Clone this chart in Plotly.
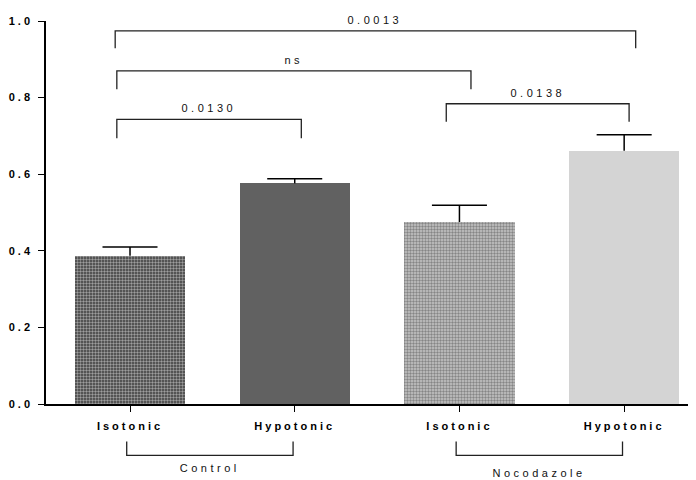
import plotly.graph_objects as go

# ---- data ----
conditions = ["Isotonic", "Hypotonic", "Isotonic", "Hypotonic"]
means = [0.387, 0.576, 0.475, 0.661]
sem = [0.023, 0.012, 0.044, 0.042]
groups = ["Control", "Nocodazole"]
group_members = [(0, 1), (2, 3)]
# comparisons
comp_a = [0, 0, 0, 2]
comp_b = [3, 2, 1, 3]
comp_labels = ["0.0013", "ns", "0.0130", "0.0138"]
comp_level = [0.974, 0.870, 0.743, 0.784]
comp_drop = [0.045, 0.048, 0.049, 0.047]
comp_off_a = [-0.09, -0.08, -0.08, -0.08]
comp_off_b = [0.07, 0.07, 0.04, 0.03]
y_ticks = [0.0, 0.2, 0.4, 0.6, 0.8, 1.0]

x = list(range(len(means)))

FONT = "Arial, Liberation Sans, sans-serif"

fill_colors = ["#3c3c3c", "#616161", "#c6c6c6", "#d4d4d4"]
pat_shapes = [".", "", ".", ""]
pat_fg = ["#000000", "#616161", "#727272", "#d4d4d4"]

fig = go.Figure()
fig.add_trace(go.Bar(
    x=x, y=means, width=0.67,
    marker=dict(
        color=fill_colors,
        line=dict(width=0),
        pattern=dict(shape=pat_shapes, fgcolor=pat_fg, bgcolor=fill_colors,
                     size=3, solidity=0.5, fillmode="overlay"),
    ),
    showlegend=False, hoverinfo="skip",
))

# upper error whiskers with a single cap
cap = 0.167
ex, ey = [], []
for xi, m, s in zip(x, means, sem):
    ex += [xi, xi, None, xi - cap, xi + cap, None]
    ey += [m, m + s, None, m + s, m + s, None]
fig.add_trace(go.Scatter(x=ex, y=ey, mode="lines",
                         line=dict(color="black", width=1.5),
                         showlegend=False, hoverinfo="skip"))

shapes = []
annotations = []
lc = "#222222"
for a, b, lab, lev, drop, oa, ob in zip(comp_a, comp_b, comp_labels, comp_level,
                                        comp_drop, comp_off_a, comp_off_b):
    x0 = a + oa
    x1 = b + ob
    shapes.append(dict(type="path",
                       path=f"M {x0} {lev - drop} L {x0} {lev} L {x1} {lev} L {x1} {lev - drop}",
                       xref="x", yref="y", line=dict(color=lc, width=1.3)))
    annotations.append(dict(x=(x0 + x1) / 2, y=lev, xref="x", yref="y",
                            text=lab, showarrow=False, yanchor="bottom", yshift=3,
                            font=dict(family=FONT, size=11, color="#111")))

# group brackets below the axis
for (a, b), g, ty in zip(group_members, groups, [-0.166, -0.180]):
    x0 = a - 0.02
    x1 = b - 0.01
    shapes.append(dict(type="path",
                       path=f"M {x0} -0.098 L {x0} -0.134 L {x1} -0.134 L {x1} -0.098",
                       xref="x", yref="paper", line=dict(color=lc, width=1.3)))
    annotations.append(dict(x=(x0 + x1) / 2, y=ty, xref="x", yref="paper",
                            text=g, showarrow=False, yanchor="middle",
                            font=dict(family=FONT, size=11, color="#111")))

# page body has an 8px margin: size the figure so it fits the 696x480 window
fig.update_layout(
    width=688, height=472,
    margin=dict(l=38, r=2, t=13, b=76),
    plot_bgcolor="white", paper_bgcolor="white",
    shapes=shapes, annotations=annotations,
    bargap=0,
    font=dict(family=FONT, color="black"),
)
fig.update_xaxes(
    range=[-0.51, 3.424], tickvals=x, ticktext=conditions,
    showline=True, linecolor="black", linewidth=1.5,
    ticks="outside", ticklen=6, tickwidth=1.3, tickcolor="black",
    tickfont=dict(family=FONT, size=11, color="black", weight="bold"),
    ticklabelstandoff=5,
    showgrid=False, zeroline=False,
)
fig.update_yaxes(
    range=[0, 1.0], tickvals=y_ticks, ticktext=[f"{v:.1f}" for v in y_ticks],
    showline=True, linecolor="black", linewidth=1.5,
    ticks="outside", ticklen=6, tickwidth=1.3, tickcolor="black",
    tickfont=dict(family=FONT, size=11, color="black", weight="bold"),
    ticklabelstandoff=3,
    showgrid=False, zeroline=False, automargin=False,
)

post = """
document.querySelectorAll('.xtick text, .ytick text').forEach(function(t){t.style.letterSpacing='3px';});
document.querySelectorAll('.annotation-text').forEach(function(t){t.style.letterSpacing='3.5px';});
"""
fig.write_html("out.html", post_script=post)
